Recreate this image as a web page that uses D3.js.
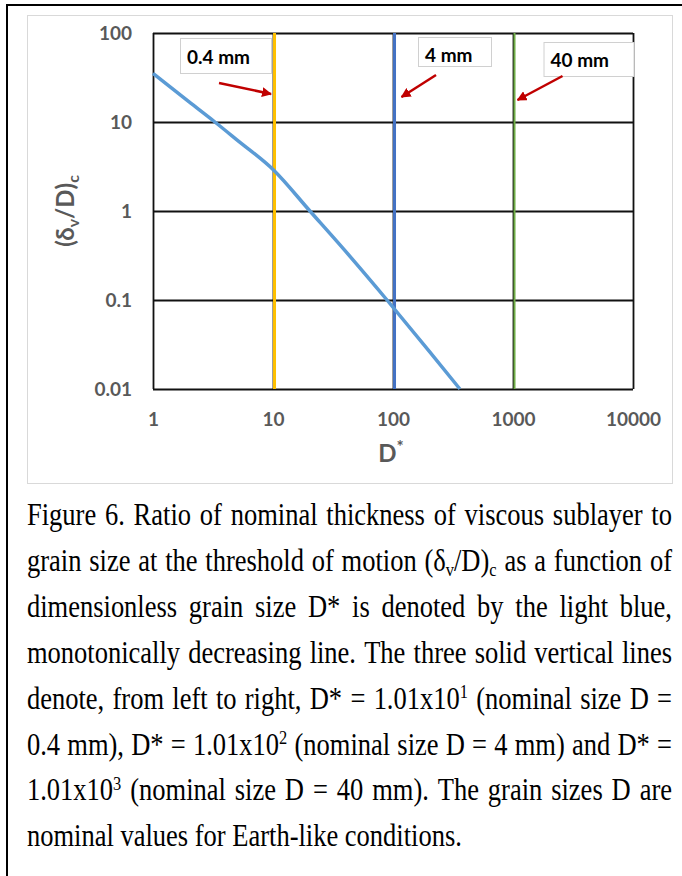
<!DOCTYPE html>
<html>
<head>
<meta charset="utf-8">
<script src="https://cdn.jsdelivr.net/npm/d3@7/dist/d3.min.js"></script>
<style>
  html, body { margin: 0; padding: 0; background: #fff; }
  svg { display: block; }
</style>
</head>
<body>
<svg id="chart" width="682" height="876"></svg>
<script>
// ---------- data ----------
const dStar = [1, 2, 3.28, 5, 10.1, 20.3, 40, 89.1, 200, 361];
const ratio = [35.1, 16.8, 10, 6.3, 2.89, 1, 0.356, 0.1, 0.0267, 0.01];

const xTicks = [1, 10, 100, 1000, 10000];
const xTickLabels = ["1", "10", "100", "1000", "10000"];
const yTicks = [0.01, 0.1, 1, 10, 100];
const yTickLabels = ["0.01", "0.1", "1", "10", "100"];

const markerD = [10.1, 101, 1010];
const markerLabels = ["0.4 mm", "4 mm", "40 mm"];
const markerColors = ["#FFC000", "#4472C4", "#70AD47"];

const captionLines = [
  "Figure 6. Ratio of nominal thickness of viscous sublayer to",
  "grain size at the threshold of motion (δ_{v}/D)_{c} as a function of",
  "dimensionless grain size D* is denoted by the light blue,",
  "monotonically decreasing line. The three solid vertical lines",
  "denote, from left to right, D* = 1.01x10^{1} (nominal size D =",
  "0.4 mm), D* = 1.01x10^{2} (nominal size D = 4 mm) and D* =",
  "1.01x10^{3} (nominal size D = 40 mm). The grain sizes D are",
  "nominal values for Earth-like conditions."
];

// ---------- layout ----------
const svg = d3.select("#chart");
const plot = { left: 153, right: 633, top: 33, bottom: 389 };
const x = d3.scaleLog().domain([1, 10000]).range([plot.left, plot.right]);
const y = d3.scaleLog().domain([0.01, 100]).range([plot.bottom, plot.top]);
const labelFont = "Lato, 'Open Sans', sans-serif";
const grey = "#595959";

// outer page frame
svg.append("path").attr("d", "M7,876 L7,5 L682,5")
  .attr("fill", "none").attr("stroke", "#000").attr("stroke-width", 2);
// chart area frame
svg.append("rect").attr("x", 27.5).attr("y", 15.5).attr("width", 645).attr("height", 468)
  .attr("fill", "#fff").attr("stroke", "#d9d9d9").attr("stroke-width", 1);

// ---------- axes / grid ----------
const xAxis = d3.axisBottom(x).tickValues(xTicks)
  .tickFormat((d, i) => xTickLabels[i])
  .tickSize(-(plot.bottom - plot.top)).tickPadding(24);
const gx = svg.append("g").attr("transform", `translate(0,${plot.bottom})`).call(xAxis);

const yAxis = d3.axisLeft(y).tickValues(yTicks)
  .tickFormat((d, i) => yTickLabels[i])
  .tickSize(-(plot.right - plot.left)).tickPadding(21);
const gy = svg.append("g").attr("transform", `translate(${plot.left},0)`).call(yAxis);

[gx, gy].forEach(g => {
  g.select(".domain").remove();
  g.selectAll(".tick line").attr("stroke", "#111").attr("stroke-width", 1.8);
  g.selectAll(".tick text").attr("fill", grey)
    .style("font-family", labelFont).style("font-weight", "bold").style("font-size", "19px");
});

// ---------- marker vertical lines ----------
svg.append("g").selectAll("line").data(markerD).join("line")
  .attr("x1", d => x(d) + 1).attr("x2", d => x(d) + 1)
  .attr("y1", plot.top).attr("y2", plot.bottom)
  .attr("stroke", (d, i) => markerColors[i])
  .attr("stroke-width", (d, i) => i === 2 ? 2 : 3);

// ---------- curve ----------
const pts = dStar.map((d, i) => [d, ratio[i]]);
svg.append("path").datum(pts)
  .attr("d", d3.line().x(d => x(d[0])).y(d => y(d[1])).curve(d3.curveMonotoneX))
  .attr("fill", "none").attr("stroke", "#5B9BD5").attr("stroke-width", 3.5);

// ---------- annotations (boxes + arrows), positioned relative to markers ----------
const annoLayout = [
  { bx: -93.5, by: 38, bw: 91, bh: 35, tx: 7, ty: 25.5, a: [-54.5, 83, -2.5, 94] },
  { bx: 24.5, by: 37, bw: 73, bh: 29, tx: 7, ty: 24.5, a: [42.5, 75, 8, 97] },
  { bx: 30, by: 42, bw: 90, bh: 34, tx: 7, ty: 25, a: [49, 76, 4, 100] }
];
svg.append("defs").append("marker").attr("id", "ah")
  .attr("viewBox", "0 0 10 10").attr("refX", 9).attr("refY", 5)
  .attr("markerWidth", 4).attr("markerHeight", 4).attr("orient", "auto")
  .append("path").attr("d", "M0,0 L10,5 L0,10 Z").attr("fill", "#C00000");

markerD.forEach((d, i) => {
  const L = annoLayout[i];
  const mx = x(d);
  svg.append("rect").attr("x", mx + L.bx + 0.5).attr("y", L.by + 0.5)
    .attr("width", L.bw).attr("height", L.bh)
    .attr("fill", "#fff").attr("stroke", "#d0d0d0").attr("stroke-width", 1);
  svg.append("text").attr("x", mx + L.bx + L.tx).attr("y", L.by + L.ty)
    .text(markerLabels[i]).attr("fill", "#000")
    .style("font-family", labelFont).style("font-weight", "bold").style("font-size", "19px");
  svg.append("line")
    .attr("x1", mx + L.a[0]).attr("y1", L.a[1]).attr("x2", mx + L.a[2]).attr("y2", L.a[3])
    .attr("stroke", "#C00000").attr("stroke-width", 2.5).attr("marker-end", "url(#ah)");
});

// ---------- axis titles ----------
const xt = svg.append("text").attr("x", x(100) - 2).attr("y", 462)
  .attr("text-anchor", "middle").attr("fill", grey)
  .style("font-family", labelFont).style("font-weight", "bold").style("font-size", "24px");
xt.append("tspan").text("D");
xt.append("tspan").text("*").attr("dy", -9).style("font-size", "17px");

const yt = svg.append("text")
  .attr("transform", `translate(74,${(plot.top + plot.bottom) / 2}) rotate(-90)`)
  .attr("text-anchor", "middle").attr("fill", grey)
  .style("font-family", labelFont).style("font-weight", "bold").style("font-size", "24px");
yt.append("tspan").text("(δ");
yt.append("tspan").text("v").attr("dy", 5).style("font-size", "16px");
yt.append("tspan").text("/D)").attr("dy", -5);
yt.append("tspan").text("c").attr("dy", 5).style("font-size", "16px");

// ---------- caption (justified) ----------
const capLeft = 27, capRight = 672, capTop = 525, capStep = 45.9, capSize = 26.5, capStretch = 1.16;
function parseWord(w) {
  const segs = [];
  const re = /([_^])\{([^}]*)\}|([^_^]+)/g;
  let m;
  while ((m = re.exec(w)) !== null) {
    if (m[1]) segs.push({ t: m[2], k: m[1] === "_" ? "sub" : "sup" });
    else segs.push({ t: m[3], k: "n" });
  }
  return segs;
}
const capG = svg.append("g")
  .style("font-family", "'Liberation Serif', 'Times New Roman', serif")
  .style("font-size", capSize + "px").attr("fill", "#000");

captionLines.forEach((line, li) => {
  const words = line.split(" ");
  const by = capTop + li * capStep;
  const lg = capG.append("g")
    .attr("transform", `translate(0,${by}) scale(1,${capStretch})`);
  const nodes = words.map(w => {
    const t = lg.append("text").attr("y", 0);
    let shift = 0;
    parseWord(w).forEach(s => {
      const ts = t.append("tspan").text(s.t);
      if (s.k === "sup") {
        ts.style("font-size", (capSize * 0.62) + "px").attr("dy", -9 - shift); shift = -9;
      } else if (s.k === "sub") {
        ts.style("font-size", (capSize * 0.62) + "px").attr("dy", 4 - shift); shift = 4;
      } else if (shift !== 0) {
        ts.attr("dy", -shift); shift = 0;
      }
    });
    return t;
  });
  const widths = nodes.map(n => n.node().getComputedTextLength());
  const total = d3.sum(widths);
  const last = li === captionLines.length - 1;
  const gap = last ? capSize * 0.25 : (capRight - capLeft - total) / (words.length - 1);
  let cx = capLeft;
  nodes.forEach((n, i) => { n.attr("x", cx); cx += widths[i] + gap; });
});
</script>
</body>
</html>
